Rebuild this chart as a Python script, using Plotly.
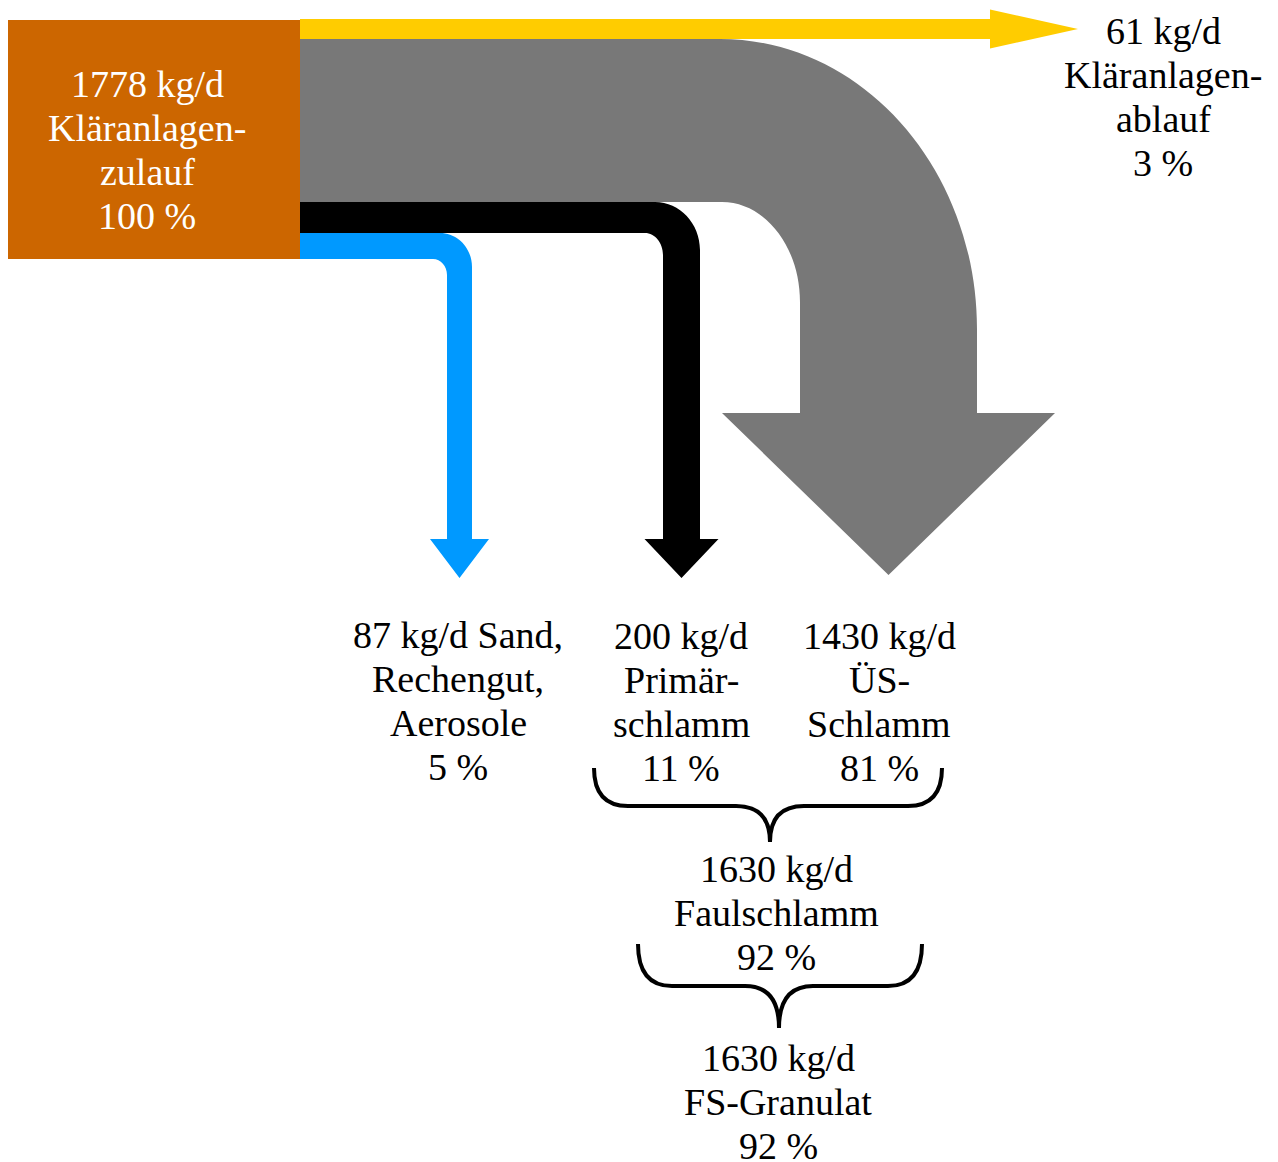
import plotly.graph_objects as go

# ---------------- data ----------------
flow_names = ["Kläranlagenzulauf", "Kläranlagenablauf", "Sand, Rechengut, Aerosole",
              "Primärschlamm", "ÜS-Schlamm", "Faulschlamm", "FS-Granulat"]
flow_kg_per_day = [1778, 61, 87, 200, 1430, 1630, 1630]
flow_percent = [100, 3, 5, 11, 81, 92, 92]
label_lines = [
    ["{v} kg/d", "Kläranlagen-", "zulauf", "{p} %"],
    ["{v} kg/d", "Kläranlagen-", "ablauf", "{p} %"],
    ["{v} kg/d Sand,", "Rechengut,", "Aerosole", "{p} %"],
    ["{v} kg/d", "Primär-", "schlamm", "{p} %"],
    ["{v} kg/d", "ÜS-", "Schlamm", "{p} %"],
    ["{v} kg/d", "Faulschlamm", "{p} %"],
    ["{v} kg/d", "FS-Granulat", "{p} %"],
]

# ---------------- layout / style ----------------
W, H = 1278, 1162
FONT = "Liberation Serif"
FS = 38
LINE_H = 44
C_ORANGE = "#CC6600"
C_YELLOW = "#FFCC00"
C_GRAY = "#787878"
C_BLUE = "#0099FF"
C_BLACK = "#000000"
K = 0.5523

# label placement: (center x, first baseline, colour)
label_pos = [(147, 97, "white"), (1163, 44, "black"), (458, 648, "black"),
             (681, 649, "black"), (879, 649, "black"), (776, 882, "black"),
             (778, 1071, "black")]

SRC_X0, SRC_X1, SRC_Y0, SRC_Y1 = 8, 300, 20, 259


def bend_arrow(xs, yt, yb, xl, xr, Rx, Ry, rx, ry, yhead, head_half, ytip):
    xc = (xl + xr) / 2
    return (f"M {xs},{yt} L {xr-Rx},{yt} "
            f"C {xr-Rx+K*Rx},{yt} {xr},{yt+Ry-K*Ry} {xr},{yt+Ry} "
            f"L {xr},{yhead} L {xc+head_half},{yhead} L {xc},{ytip} "
            f"L {xc-head_half},{yhead} L {xl},{yhead} L {xl},{yb+ry} "
            f"C {xl},{yb+ry-K*ry} {xl-rx+K*rx},{yb} {xl-rx},{yb} "
            f"L {xs},{yb} Z")


def brace(x0, x1, ytop, yh, xc, ybot, r):
    return (f"M {x0},{ytop} Q {x0},{yh} {x0+r},{yh} L {xc-r},{yh} "
            f"Q {xc},{yh} {xc},{ybot} Q {xc},{yh} {xc+r},{yh} "
            f"L {x1-r},{yh} Q {x1},{yh} {x1},{ytop}")


fig = go.Figure()
shapes = []

# yellow straight arrow
y_t, y_b = 19, 39
ym = (y_t + y_b) / 2
shapes.append(dict(type="path", fillcolor=C_YELLOW, line=dict(width=0),
                   path=f"M {SRC_X1},{y_t} L 990,{y_t} L 990,{ym-19.5} L 1078,{ym} "
                        f"L 990,{ym+19.5} L 990,{y_b} L {SRC_X1},{y_b} Z"))
# gray big bend
shapes.append(dict(type="path", fillcolor=C_GRAY, line=dict(width=0),
                   path=bend_arrow(SRC_X1 - 2, 39, 202, 800, 977, 257, 290, 78, 100, 413, 166.5, 575)))
# black bend
shapes.append(dict(type="path", fillcolor=C_BLACK, line=dict(width=0),
                   path=bend_arrow(SRC_X1 - 2, 202, 233, 663, 700, 45, 48, 18, 22, 539, 37, 578)))
# blue bend
shapes.append(dict(type="path", fillcolor=C_BLUE, line=dict(width=0),
                   path=bend_arrow(SRC_X1 - 2, 233, 259, 447, 472, 32, 34, 14, 16, 539, 29.5, 578)))
# source box
shapes.append(dict(type="rect", x0=SRC_X0, x1=SRC_X1, y0=SRC_Y0, y1=SRC_Y1,
                   fillcolor=C_ORANGE, line=dict(width=0)))
# braces
shapes.append(dict(type="path", line=dict(color="black", width=4),
                   path=brace(594, 942, 768, 806, 770, 842, 34)))
shapes.append(dict(type="path", line=dict(color="black", width=4),
                   path=brace(638, 922, 944, 986, 779, 1028, 34)))

for s in shapes:
    s.update(xref="x", yref="y")
fig.update_layout(shapes=shapes)

annotations = []
for lines, v, p, (cx, base, col) in zip(label_lines, flow_kg_per_day, flow_percent, label_pos):
    for i, ln in enumerate(lines):
        annotations.append(dict(
            x=cx, y=base + i * LINE_H - 13, xref="x", yref="y",
            text=ln.format(v=v, p=p), showarrow=False,
            xanchor="center", yanchor="middle",
            font=dict(family=FONT, size=FS, color=col)))
fig.update_layout(annotations=annotations)

fig.update_layout(
    width=W, height=H, margin=dict(l=0, r=0, t=0, b=0),
    paper_bgcolor="white", plot_bgcolor="white", showlegend=False,
    font=dict(family=FONT),
    xaxis=dict(range=[0, W], visible=False, fixedrange=True),
    yaxis=dict(range=[H, 0], visible=False, fixedrange=True),
)

fig.write_html("out.html", config={"displayModeBar": False},
               post_script="document.body.style.margin='0';document.body.style.overflow='hidden';")
